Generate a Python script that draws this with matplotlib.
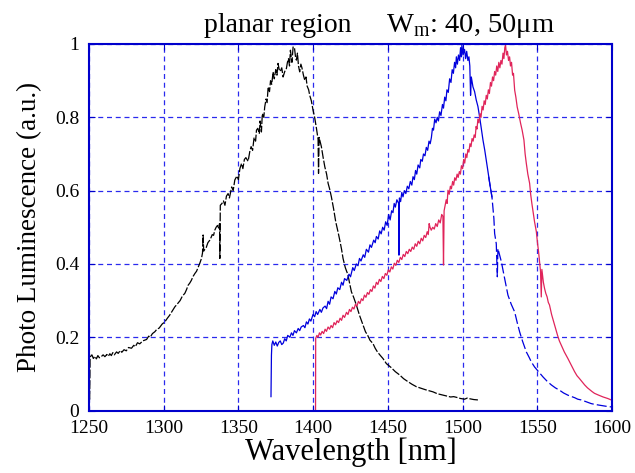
import matplotlib
matplotlib.use('Agg')
import matplotlib.pyplot as plt
import numpy as np

# wavelength [nm] / normalised PL
black_nm = [1250.5, 1250.8, 1252, 1253, 1254, 1255, 1256, 1257, 1258, 1259.5, 1260.7, 1262, 1263, 1264, 1265,
	1266, 1267, 1268.5, 1269.6, 1271, 1272, 1273.5, 1275, 1276.5, 1278.5, 1280, 1281, 1282.5, 1284, 1286,
	1288.6, 1290, 1291, 1292.5, 1294.1, 1295.5, 1297, 1299, 1300.8, 1302.5, 1304, 1305.5, 1307.5, 1309,
	1311, 1312.5, 1314.2, 1315.3, 1316.4, 1317.5, 1318.5, 1319.7, 1320.9, 1322, 1323, 1324.2, 1325.3,
	1326.0, 1326.4, 1326.8, 1327.6, 1328.5, 1329.6, 1330.9, 1331.7, 1332.5, 1333.4, 1334.2, 1335.1, 1336,
	1336.8, 1337.4, 1337.6, 1337.9, 1339, 1340, 1341, 1342, 1343.1, 1344, 1345.5, 1346.5, 1347.6, 1349,
	1350, 1351, 1352.1, 1353, 1354, 1355, 1356.5, 1357.6, 1358.5, 1359.5, 1360.5, 1361.5, 1362.1, 1363,
	1364, 1364.5, 1365.4, 1366, 1367, 1367.6, 1368.5, 1369.2, 1369.9, 1370.8, 1371.5, 1372.3, 1373.2,
	1374, 1375, 1375.8, 1376.5, 1377.3, 1378, 1379, 1379.9, 1381, 1382.1, 1382.8, 1383.5, 1384.2, 1384.8,
	1385.8, 1386.6, 1387.5, 1388.2, 1388.8, 1389.5, 1390.2, 1391.0, 1391.8, 1392.5, 1393.5, 1394.4,
	1395.2, 1396, 1397, 1397.7, 1398.8, 1399.9, 1401, 1402.2, 1403.3, 1403.6, 1404.0, 1405.5, 1406.7,
	1407.8, 1409, 1410.0, 1411, 1412.2, 1413.7, 1415.1, 1416.5, 1417.8, 1419, 1420.0, 1421.5, 1423.3,
	1424.5, 1425.6, 1427, 1428.9, 1431, 1433.4, 1435, 1436.5, 1438, 1440.0, 1441.5, 1443, 1445, 1446.7,
	1449, 1452, 1455, 1457.9, 1460.5, 1463, 1466, 1469.1, 1472, 1475, 1477.5, 1480.2, 1483, 1486, 1489,
	1492, 1494, 1496, 1498.5, 1501.3, 1503, 1505, 1507.5, 1510.2]
black_pl = [0.03, 0.146, 0.152, 0.142, 0.148, 0.141, 0.15, 0.144, 0.146, 0.152, 0.147, 0.153, 0.148, 0.155, 0.15,
	0.158, 0.152, 0.16, 0.156, 0.164, 0.159, 0.166, 0.163, 0.172, 0.17, 0.178, 0.174, 0.185, 0.182, 0.19,
	0.194, 0.203, 0.2, 0.21, 0.215, 0.222, 0.225, 0.236, 0.242, 0.252, 0.26, 0.27, 0.283, 0.29,
	0.3, 0.312, 0.32, 0.33, 0.342, 0.348, 0.355, 0.366, 0.374, 0.38, 0.39, 0.402, 0.415,
	0.43, 0.479, 0.435, 0.44, 0.445, 0.458, 0.465, 0.472, 0.48, 0.478, 0.492, 0.5, 0.505,
	0.498, 0.51, 0.415, 0.56, 0.565, 0.572, 0.56, 0.585, 0.592, 0.58, 0.61, 0.6, 0.629, 0.64,
	0.63, 0.66, 0.674, 0.66, 0.685, 0.69, 0.68, 0.706, 0.72, 0.71, 0.745, 0.735, 0.765, 0.77,
	0.755, 0.79, 0.76, 0.81, 0.8, 0.828, 0.85, 0.84, 0.883, 0.87, 0.9, 0.89, 0.924,
	0.905, 0.93, 0.915, 0.947, 0.93, 0.925, 0.935, 0.91, 0.925, 0.933, 0.95, 0.96, 0.94, 0.983,
	0.95, 0.992, 0.99, 0.965, 0.956, 0.975, 0.94, 0.924, 0.945, 0.935, 0.915, 0.901,
	0.91, 0.885, 0.875, 0.86, 0.845, 0.82, 0.8, 0.77, 0.74, 0.647, 0.745, 0.72, 0.69,
	0.665, 0.645, 0.62, 0.605, 0.583, 0.55, 0.515, 0.49, 0.465, 0.44, 0.415, 0.39, 0.37,
	0.345, 0.324, 0.31, 0.288, 0.26, 0.233, 0.215, 0.205, 0.192, 0.183, 0.17, 0.16, 0.15, 0.142,
	0.128, 0.118, 0.106, 0.097, 0.087, 0.08, 0.072, 0.065, 0.061, 0.057, 0.054, 0.051, 0.046, 0.043, 0.04,
	0.037, 0.038, 0.036, 0.033, 0.031, 0.034, 0.032, 0.03, 0.029]

blue_nm = [1371.8, 1372.1, 1372.4, 1373, 1374, 1375, 1376, 1377, 1378, 1379, 1380, 1381, 1382, 1383, 1384.4,
	1385.5, 1386.5, 1387.5, 1388.8, 1390, 1391, 1392, 1393.5, 1394.5, 1395.5, 1396.5, 1397.5, 1398.5,
	1399.9, 1401, 1402, 1403, 1404.5, 1405.5, 1406.6, 1408, 1409, 1410, 1411, 1412, 1413.3, 1414.5,
	1415.5, 1416.5, 1417.8, 1419, 1420, 1421, 1422.5, 1424, 1425, 1426.5, 1427.5, 1428.9, 1430, 1431,
	1432, 1433.5, 1434.5, 1435.6, 1437, 1438, 1439, 1440.5, 1441.5, 1442.3, 1443.5, 1444.5, 1445.5,
	1446.5, 1447.5, 1448.5, 1449.5, 1450.5, 1451.5, 1452.5, 1453.4, 1454.2, 1455, 1456, 1457.2, 1457.4,
	1457.7, 1458.5, 1459.3, 1460.1, 1461, 1462, 1463, 1464, 1465, 1466, 1466.8, 1467.7, 1468.5, 1469.3,
	1470.2, 1471.3, 1472, 1473, 1473.8, 1474.8, 1475.7, 1476.6, 1477.5, 1478.3, 1479.1, 1479.8, 1480.5,
	1481.3, 1482.2, 1483, 1483.8, 1484.6, 1485.5, 1486.5, 1487.2, 1488, 1488.8, 1489.5, 1490.4, 1491.3,
	1492.2, 1493, 1493.8, 1494.6, 1495.3, 1495.8, 1496.5, 1497.2, 1498, 1498.6, 1499.2, 1499.5, 1500.3,
	1501.3, 1502, 1502.7, 1503.5, 1504.2, 1504.8, 1505.3, 1505.8, 1506.4, 1506.9, 1508, 1509.1, 1510.2,
	1511.4, 1512.5, 1513.6, 1514.8, 1515.8, 1516.6, 1517.4, 1518.5, 1519.6, 1520.9, 1521.4, 1522.5,
	1523.2, 1523.6, 1525.9, 1528.1, 1530.3, 1532.5, 1534.8, 1536.5, 1538.1, 1540, 1542.6, 1544.5, 1545.9,
	1548.1, 1551, 1553.7, 1556.5, 1559.3, 1562, 1565, 1567.5, 1570.4, 1573, 1575, 1577, 1579.3, 1582,
	1584, 1586, 1588.2, 1591, 1594, 1597, 1599.4]
blue_pl = [0.038, 0.151, 0.18, 0.19, 0.178, 0.187, 0.176, 0.186, 0.19, 0.18, 0.184, 0.196, 0.19, 0.205, 0.2,
	0.212, 0.205, 0.218, 0.212, 0.224, 0.218, 0.228, 0.232, 0.226, 0.242, 0.236, 0.25, 0.244,
	0.262, 0.256, 0.27, 0.262, 0.276, 0.268, 0.28, 0.285, 0.278, 0.298, 0.29, 0.31, 0.305, 0.325,
	0.318, 0.335, 0.33, 0.35, 0.342, 0.36, 0.355, 0.372, 0.365, 0.39, 0.382, 0.4, 0.395, 0.415,
	0.408, 0.425, 0.418, 0.44, 0.432, 0.452, 0.445, 0.465, 0.458, 0.475, 0.468, 0.49, 0.482,
	0.5, 0.492, 0.515, 0.505, 0.535, 0.52, 0.545, 0.54, 0.565, 0.555, 0.575, 0.565, 0.424,
	0.58, 0.57, 0.595, 0.583, 0.6, 0.592, 0.612, 0.605, 0.625, 0.615, 0.638, 0.63, 0.655, 0.645,
	0.67, 0.662, 0.685, 0.68, 0.7, 0.695, 0.718, 0.71, 0.735, 0.728, 0.745, 0.77, 0.765,
	0.795, 0.785, 0.8, 0.79, 0.815, 0.805, 0.835, 0.825, 0.855, 0.845, 0.875, 0.868, 0.905,
	0.895, 0.93, 0.92, 0.95, 0.935, 0.965, 0.945, 0.97, 0.955, 0.99, 0.965, 0.997, 0.97,
	0.985, 0.96, 0.98, 0.955, 0.965, 0.94, 0.86, 0.91, 0.895, 0.883, 0.87, 0.847, 0.83,
	0.80, 0.77, 0.738, 0.71, 0.683, 0.66, 0.638, 0.61, 0.583, 0.524, 0.483, 0.455,
	0.365, 0.442, 0.406, 0.36, 0.315, 0.29, 0.269, 0.24, 0.215, 0.19, 0.16, 0.145, 0.133,
	0.119, 0.105, 0.092, 0.08, 0.07, 0.062, 0.055, 0.048, 0.042, 0.038, 0.035, 0.031, 0.029, 0.025,
	0.022, 0.019, 0.017, 0.015, 0.013, 0.011, 0.010]

red_nm = [1401.6, 1401.7, 1402.5, 1403.3, 1404.2, 1405, 1406, 1407, 1408, 1408.9, 1410, 1411, 1412, 1413,
	1414, 1415, 1416, 1417, 1418, 1419, 1420, 1421, 1422.3, 1423.3, 1424.3, 1425.3, 1426.3, 1427.3, 1428.3,
	1429.3, 1430.3, 1431.3, 1432.3, 1433.3, 1434.3, 1435.3, 1436.3, 1437.3, 1438.3, 1439.3, 1440.3, 1441.3,
	1442.3, 1443.3, 1444.3, 1445.3, 1446.3, 1447.3, 1448.3, 1449.3, 1450.3, 1451.3, 1452.3, 1453.3, 1454.3,
	1455.3, 1456.3, 1457.3, 1458.3, 1459.3, 1460.3, 1461.3, 1462.3, 1463.3, 1464.3, 1465.3, 1466.3, 1467.3,
	1468.3, 1469.3, 1470.3, 1471.3, 1472.3, 1473.3, 1474.3, 1475.3, 1476.3, 1477, 1477.6, 1478.2, 1479,
	1480, 1481, 1482, 1483, 1484, 1485, 1486, 1486.8, 1487.2, 1487.6, 1488.3, 1489, 1489.6, 1490.2, 1491,
	1491.8, 1492.5, 1493.3, 1494, 1494.7, 1495.5, 1496.3, 1497, 1497.8, 1498.5, 1499.2, 1500, 1500.7,
	1501.4, 1502.1, 1502.8, 1503.5, 1504.2, 1504.9, 1505.6, 1506.3, 1507, 1507.7, 1508.4, 1509, 1509.6,
	1510.2, 1510.9, 1511.6, 1512.3, 1513, 1513.7, 1514.4, 1515.1, 1515.8, 1516.5, 1517.2, 1517.9, 1518.6,
	1519.3, 1520, 1520.7, 1521.4, 1522.1, 1522.8, 1523.5, 1524.2, 1524.9, 1525.6, 1526.3, 1527, 1527.6,
	1528.2, 1528.7, 1529.3, 1530, 1530.7, 1531.4, 1532, 1532.7, 1533.4, 1534, 1534.8, 1535.6, 1536.5,
	1537.5, 1538.8, 1539.8, 1541.0, 1541.8, 1542.6, 1543.6, 1544.8, 1545.5, 1546.3, 1547.2, 1548.1,
	1549.3, 1550, 1550.8, 1551.5, 1552.1, 1552.6, 1553.0, 1554, 1554.8, 1555.6, 1556.5, 1557.3, 1558.1,
	1559.5, 1561.5, 1562.5, 1563.5, 1564.7, 1565.9, 1568, 1570.4, 1572.5, 1574.9, 1576.5, 1578, 1580,
	1581.6, 1583.5, 1585, 1586.5, 1588.2, 1591, 1594, 1597, 1599.4]
red_pl = [0.0, 0.197, 0.205, 0.2, 0.212, 0.206, 0.216, 0.21, 0.222, 0.216, 0.228, 0.222, 0.232, 0.226,
	0.24, 0.234, 0.245, 0.24, 0.252, 0.246, 0.26, 0.254, 0.268, 0.262, 0.276, 0.27, 0.282, 0.277, 0.29,
	0.285, 0.298, 0.292, 0.305, 0.3, 0.315, 0.309, 0.322, 0.317, 0.33, 0.325, 0.34, 0.334,
	0.35, 0.344, 0.358, 0.352, 0.366, 0.36, 0.374, 0.369, 0.384, 0.378, 0.392, 0.386, 0.402,
	0.396, 0.41, 0.404, 0.418, 0.412, 0.426, 0.42, 0.434, 0.428, 0.44, 0.434, 0.446, 0.44,
	0.455, 0.448, 0.462, 0.455, 0.47, 0.463, 0.478, 0.472, 0.488, 0.48, 0.51, 0.5, 0.492,
	0.5, 0.495, 0.51, 0.502, 0.52, 0.512, 0.535, 0.53, 0.397, 0.545, 0.56, 0.575, 0.565, 0.601, 0.59,
	0.612, 0.605, 0.625, 0.615, 0.635, 0.628, 0.645, 0.636, 0.652, 0.645, 0.668, 0.66, 0.685,
	0.675, 0.7, 0.69, 0.712, 0.705, 0.728, 0.72, 0.742, 0.735, 0.752, 0.745, 0.775, 0.768,
	0.795, 0.785, 0.81, 0.8, 0.83, 0.82, 0.845, 0.835, 0.86, 0.85, 0.875, 0.865, 0.895,
	0.885, 0.91, 0.9, 0.925, 0.915, 0.94, 0.925, 0.95, 0.935, 0.955, 0.945, 0.975, 0.96,
	0.99, 0.997, 0.97, 0.98, 0.955, 0.965, 0.94, 0.95, 0.915, 0.92, 0.874, 0.855, 0.828,
	0.81, 0.783, 0.765, 0.738, 0.7, 0.674, 0.645, 0.62, 0.59, 0.565, 0.54, 0.515,
	0.488, 0.46, 0.433, 0.405, 0.379, 0.31, 0.385, 0.35, 0.333, 0.32, 0.31, 0.295, 0.288,
	0.262, 0.233, 0.218, 0.205, 0.19, 0.179, 0.16, 0.142, 0.125, 0.106, 0.095, 0.088, 0.078,
	0.07, 0.062, 0.057, 0.052, 0.047, 0.042, 0.037, 0.033, 0.029]

x_ticks = [1250, 1300, 1350, 1400, 1450, 1500, 1550, 1600]
y_ticks = [0, 0.2, 0.4, 0.6, 0.8, 1.0]
y_tick_labels = ['0', '0.2', '0.4', '0.6', '0.8', '1']


def main():
	plt.rcParams['font.family'] = ['Liberation Serif', 'DejaVu Serif']
	plt.rcParams['mathtext.fontset'] = 'custom'
	plt.rcParams['mathtext.rm'] = 'Liberation Serif'

	fig = plt.figure(figsize=(6.35, 4.73), dpi=100)
	ax = fig.add_axes([0.140, 0.132, 0.824, 0.775])

	axis_blue = '#0000cc'
	ax.plot(black_nm, black_pl, color='black', lw=0.9, dashes=(7, 1.5))

	bnm = np.array(blue_nm)
	bpl = np.array(blue_pl)
	head = bnm <= 1519.6
	tail = bnm >= 1517.4
	ax.plot(bnm[head], bpl[head], color='#0000dd', lw=0.9)
	ax.plot(bnm[tail], bpl[tail], color='#0000dd', lw=0.9, dashes=(8, 2.5))

	ax.plot(red_nm, red_pl, color='#e0245a', lw=0.9)

	ax.set_xlim(1250, 1600)
	ax.set_ylim(0, 1)
	ax.set_xticks(x_ticks)
	ax.set_yticks(y_ticks)
	ax.set_yticklabels(y_tick_labels)
	ax.grid(True, color='#2a2aee', linestyle=(0, (4, 3)), lw=0.9)

	for s in ax.spines.values():
		s.set_color(axis_blue)
		s.set_linewidth(1.5)
	ax.tick_params(direction='in', length=4, color=axis_blue, top=True, right=True,
		labelsize=14, pad=7)

	ax.set_xlabel('Wavelength [nm]', fontsize=22, labelpad=0)
	ax.set_ylabel('Photo Luminescence (a.u.)', fontsize=19.5, labelpad=9)

	fig.text(0.438, 0.933, 'planar region', fontsize=20, ha='center', va='baseline')
	fig.text(0.608, 0.933, 'W$_\\mathrm{m}$: 40, 50\u03bcm', fontsize=20.5, ha='left', va='baseline')

	plt.savefig('out.png', dpi=100)


if __name__ == '__main__':
	main()
